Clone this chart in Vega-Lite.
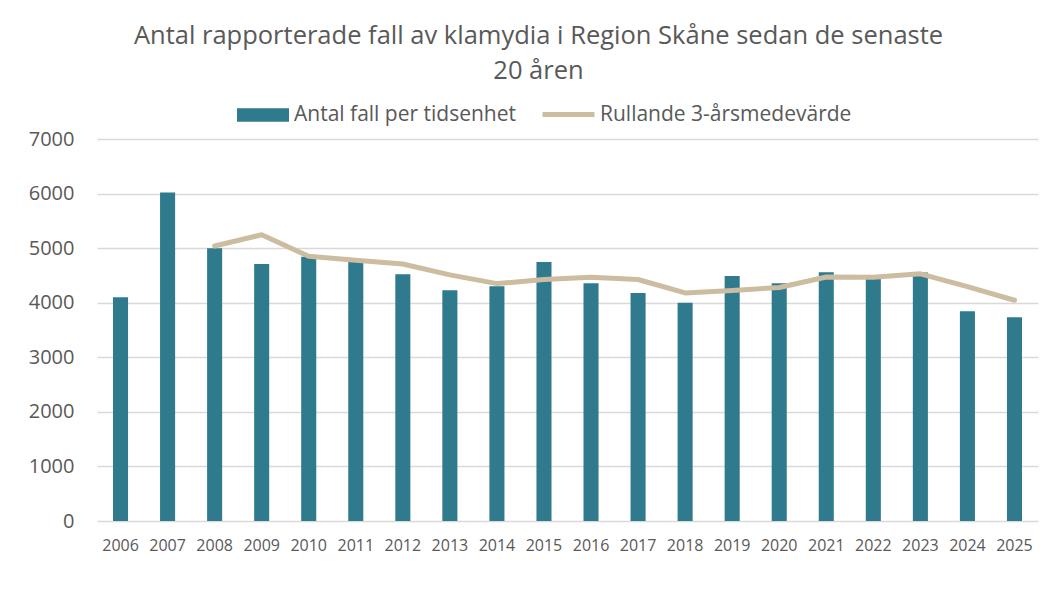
{
  "$schema": "https://vega.github.io/schema/vega-lite/v6.json",
  "autosize": "none",
  "width": 941,
  "height": 382,
  "padding": {"left": 97, "top": 139, "right": 17, "bottom": 89},
  "background": "white",
  "title": {
    "text": ["Antal rapporterade fall av klamydia i Region Skåne sedan de senaste", "20 åren"],
    "font": "Open Sans",
    "fontSize": 25.5,
    "fontWeight": "normal",
    "color": "#595959",
    "lineHeight": 35,
    "anchor": "middle",
    "dx": -29,
    "offset": 2
  },
  "data": {
    "values": [
      {"year": "2006", "cases": 4100, "avg": null},
      {"year": "2007", "cases": 6020, "avg": null},
      {"year": "2008", "cases": 5000, "avg": 5040},
      {"year": "2009", "cases": 4710, "avg": 5245},
      {"year": "2010", "cases": 4840, "avg": 4850},
      {"year": "2011", "cases": 4780, "avg": 4780},
      {"year": "2012", "cases": 4520, "avg": 4710},
      {"year": "2013", "cases": 4230, "avg": 4510},
      {"year": "2014", "cases": 4300, "avg": 4350},
      {"year": "2015", "cases": 4745, "avg": 4425},
      {"year": "2016", "cases": 4355, "avg": 4465},
      {"year": "2017", "cases": 4180, "avg": 4425},
      {"year": "2018", "cases": 4000, "avg": 4180},
      {"year": "2019", "cases": 4490, "avg": 4225},
      {"year": "2020", "cases": 4355, "avg": 4280},
      {"year": "2021", "cases": 4560, "avg": 4470},
      {"year": "2022", "cases": 4480, "avg": 4465},
      {"year": "2023", "cases": 4555, "avg": 4530},
      {"year": "2024", "cases": 3845, "avg": 4295},
      {"year": "2025", "cases": 3735, "avg": 4045}
    ]
  },
  "encoding": {
    "x": {
      "field": "year",
      "type": "ordinal",
      "scale": {"paddingInner": 0.68, "paddingOuter": 0.34},
      "axis": {
        "title": null,
        "labelAngle": 0,
        "labelFont": "Open Sans",
        "labelFontSize": 16,
        "labelColor": "#595959",
        "labelPadding": 16,
        "ticks": false,
        "domain": false
      }
    }
  },
  "layer": [
    {
      "mark": {"type": "bar", "color": "#2F7B8D"},
      "encoding": {
        "y": {
          "field": "cases",
          "type": "quantitative",
          "scale": {"domain": [0, 7000]},
          "axis": {
            "title": null,
            "values": [0, 1000, 2000, 3000, 4000, 5000, 6000, 7000],
            "format": "d",
            "labelFont": "Open Sans",
            "labelFontSize": 20,
            "labelColor": "#595959",
            "labelPadding": 23,
            "ticks": false,
            "domain": false,
            "grid": true,
            "gridColor": "#D9D9D9",
            "gridWidth": 1.3
          }
        },
        "color": {
          "datum": "Antal fall per tidsenhet",
          "scale": {"range": ["#2F7B8D"]},
          "legend": {
            "title": null,
            "orient": "none",
            "legendX": 140,
            "legendY": -50,
            "direction": "horizontal",
            "symbolType": "M-1,-0.26L1,-0.26L1,0.26L-1,0.26Z",
            "symbolSize": 2704,
            "symbolStrokeWidth": 0,
            "symbolOpacity": 1,
            "labelFont": "Open Sans",
            "labelFontSize": 21,
            "labelColor": "#595959",
            "labelOffset": 5,
            "labelLimit": 400,
            "padding": 0
          }
        }
      }
    },
    {
      "mark": {"type": "line", "strokeWidth": 5, "strokeCap": "round", "strokeJoin": "round"},
      "encoding": {
        "y": {"field": "avg", "type": "quantitative"},
        "color": {
          "datum": "Rullande 3-årsmedevärde",
          "scale": {"range": ["#CCBCA0"]},
          "legend": {
            "title": null,
            "orient": "none",
            "legendX": 443,
            "legendY": -53,
            "direction": "horizontal",
            "symbolType": "M-1,0L1,0",
            "symbolSize": 2704,
            "symbolStrokeWidth": 5,
            "labelFont": "Open Sans",
            "labelFontSize": 21,
            "labelColor": "#595959",
            "labelOffset": 3,
            "labelLimit": 400,
            "padding": 0
          }
        }
      }
    }
  ],
  "resolve": {"scale": {"color": "independent"}},
  "config": {"view": {"stroke": null}}
}
